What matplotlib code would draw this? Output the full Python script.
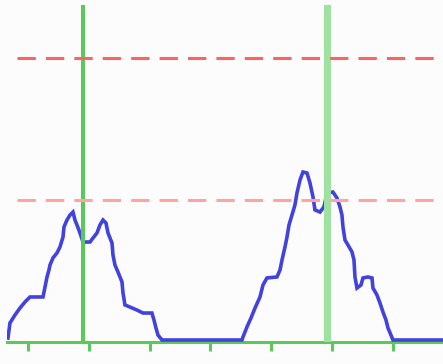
import numpy as np
import matplotlib
matplotlib.use("Agg")
import matplotlib.pyplot as plt

# signal (x in ticks, y in units of the lower red level)
t = [-0.329, -0.296, -0.214, -0.132, -0.049, 0.033, 0.197, 0.247, 0.280, 0.313,
     0.345, 0.362, 0.411, 0.477, 0.526, 0.576, 0.592, 0.641, 0.691, 0.740,
     0.773, 0.806, 0.855, 0.905, 1.020, 1.069, 1.135, 1.184, 1.234, 1.283,
     1.316, 1.382, 1.398, 1.431, 1.480, 1.546, 1.563, 1.595, 1.678, 1.793,
     1.891, 2.039, 2.072, 2.105, 2.138, 2.204, 3.520, 3.536, 3.602, 3.668,
     3.734, 3.816, 3.865, 3.931, 4.095, 4.145, 4.178, 4.227, 4.260, 4.293,
     4.342, 4.391, 4.424, 4.474, 4.523, 4.589, 4.638, 4.688, 4.720, 4.803,
     4.868, 4.918, 5.016, 5.082, 5.132, 5.164, 5.181, 5.214, 5.263, 5.329,
     5.362, 5.378, 5.411, 5.477, 5.510, 5.592, 5.658, 5.674, 5.740, 5.789,
     5.839, 5.888, 5.921, 5.970, 6.003, 6.826]
v = [0.028, 0.134, 0.190, 0.239, 0.282, 0.317, 0.317, 0.317, 0.387, 0.458,
     0.507, 0.542, 0.592, 0.627, 0.669, 0.739, 0.810, 0.859, 0.894, 0.915,
     0.859, 0.824, 0.768, 0.704, 0.704, 0.732, 0.768, 0.824, 0.859, 0.838,
     0.768, 0.697, 0.613, 0.542, 0.493, 0.423, 0.345, 0.261, 0.246, 0.225,
     0.204, 0.204, 0.155, 0.099, 0.049, 0.014, 0.014, 0.035, 0.106, 0.169,
     0.239, 0.317, 0.401, 0.451, 0.458, 0.507, 0.577, 0.669, 0.739, 0.824,
     0.894, 0.965, 1.049, 1.141, 1.197, 1.190, 1.120, 1.021, 0.930, 0.915,
     0.951, 1.049, 1.056, 1.014, 0.951, 0.894, 0.810, 0.718, 0.683, 0.634,
     0.577, 0.458, 0.380, 0.401, 0.451, 0.458, 0.451, 0.380, 0.331, 0.275,
     0.211, 0.155, 0.099, 0.049, 0.014, 0.014]

levels = [2.0, 1.0]            # red dashed thresholds
level_colors = ["#ff6262", "#ffa4a4"]
markers = [0.905, 4.926]       # green vertical markers
marker_colors = ["#5cc85c", "#9fe29f"]
marker_widths = [2.9, 5.0]
xticks = [0, 1, 2, 3, 4, 5, 6]

fig = plt.figure(figsize=(4.43, 3.64), dpi=100, facecolor="#fcfcfc")
ax = fig.add_axes([7 / 443, 22 / 364, 436 / 443, 337 / 364])
ax.set_facecolor("#fcfcfc")

ax.plot(t, v, color="#4242de", lw=2.6, solid_joinstyle="miter", zorder=2)

# markers sit above the signal, thresholds above everything
for m, c, w in zip(markers, marker_colors, marker_widths):
    ax.axvline(m, color=c, lw=w, zorder=3)

for lv, c in zip(levels, level_colors):
    ax.plot([-0.18, 6.83], [lv, lv], color=c, lw=2.2,
            linestyle=(0, (6.0, 3.3)), zorder=4)

ax.set_xlim(-0.345, 6.826)
ax.set_ylim(0, 2.373)

for s in ["top", "right", "left"]:
    ax.spines[s].set_visible(False)
ax.spines["bottom"].set_color("#5cc85c")
ax.spines["bottom"].set_linewidth(2.2)
ax.spines["bottom"].set_zorder(1)

ax.set_xticks(xticks)
ax.set_xticklabels([])
ax.set_yticks([])
ax.tick_params(axis="x", direction="out", length=6.5, width=2.2, color="#5cc85c")

fig.savefig("out.png", dpi=100, facecolor=fig.get_facecolor())
